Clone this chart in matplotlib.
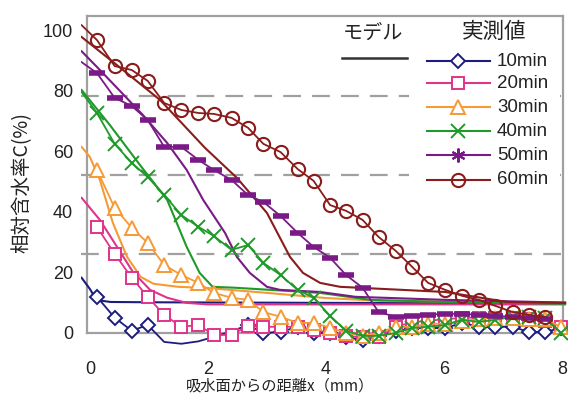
import numpy as np
import matplotlib.pyplot as plt
from matplotlib.lines import Line2D
from matplotlib.patches import Rectangle

plt.rcParams['font.family'] = ['Liberation Sans', 'Noto Sans CJK JP']

W, H = 568, 399

# measurement positions (mm)
x_meas = [0.12, 0.42, 0.71, 0.98, 1.26, 1.55, 1.84, 2.10, 2.40, 2.68, 2.94, 3.23, 3.52, 3.79,
          4.07, 4.34, 4.62, 4.89, 5.18, 5.46, 5.73, 6.02, 6.31, 6.59, 6.87, 7.16, 7.44, 7.71, 7.98]
x_surface = -0.14

meas_10 = [11.9, 5.0, 0.7, 2.6, -3.0, -3.6, -2.8, -1.3, 0.5, 2.6, 0.0, 0.3, 2.0, 0.0, 0.0,
           -1.5, -2.3, -1.0, 0.5, 1.6, 1.6, 1.6, 3.3, 2.0, 2.0, 2.0, 0.3, 0.3, 1.6]
meas_20 = [35.0, 26.1, 18.2, 11.9, 5.9, 2.0, 2.6, -0.7, -0.7, 2.3, 2.0, 2.0, 2.0, 1.0, 0.0,
           -1.0, -1.5, -1.5, 2.0, 3.5, 4.0, 4.5, 5.0, 5.0, 5.0, 5.0, 4.5, 4.0, 2.0]
meas_30 = [53.8, 41.3, 34.7, 29.7, 22.4, 19.1, 16.5, 13.2, 11.6, 10.9, 6.9, 5.3, 3.3, 3.3, 1.7,
           0.0, -1.0, 0.0, 2.0, 2.0, 3.0, 3.0, 4.0, 4.5, 5.0, 5.0, 4.5, 4.5, 2.0]
meas_40 = [72.6, 62.4, 56.1, 51.5, 45.5, 38.9, 35.0, 32.0, 27.4, 29.0, 23.1, 19.1, 14.2, 11.6, 5.6,
           0.7, -1.0, -1.0, 0.0, 1.6, 2.0, 2.6, 4.3, 3.6, 4.3, 5.3, 5.3, 5.0, 0.0]
meas_50 = [85.8, 77.6, 74.9, 70.3, 61.4, 61.4, 57.1, 53.8, 50.5, 45.5, 43.2, 38.6, 33.0, 28.4,
           24.8, 19.1, 14.9, 6.9, 5.3, 5.6, 6.0, 6.3, 6.3, 5.9, 5.6, 5.3, 5.0, 4.6]
meas_60 = [96.7, 88.1, 86.8, 83.2, 75.9, 73.6, 72.6, 72.3, 71.0, 67.7, 62.4, 59.7, 54.1, 50.2,
           42.2, 40.3, 37.3, 31.7, 27.1, 21.8, 16.5, 14.2, 12.2, 10.9, 8.9, 6.9, 5.9, 5.3]

# surface values (no marker) where the measured line starts left of the axis
surface = [None, None, None, 79.5, 89.4, 101.6]

# model curves (x, C)
model_10_x = [-0.14, 0.0, 0.08, 0.2, 0.35, 1.0, 4.0, 8.05]
model_10_y = [18.2, 14.5, 11.9, 10.6, 10.2, 10.1, 9.9, 9.8]
model_20_x = [-0.14, 0.17, 0.46, 0.73, 1.02, 1.31, 1.64, 2.0, 4.0, 8.05]
model_20_y = [44.6, 37.3, 28.4, 20.1, 14.2, 11.6, 9.9, 9.4, 9.4, 9.4]
model_30_x = [-0.14, 0.0, 0.17, 0.39, 0.63, 0.86, 1.08, 1.5, 2.0, 3.0, 4.0, 5.0, 8.05]
model_30_y = [61.4, 58.1, 50.5, 36.3, 25.1, 18.5, 16.2, 15.2, 14.8, 13.2, 11.5, 10.5, 10.0]
model_40_x = [-0.14, 0.34, 0.85, 1.31, 1.64, 1.86, 2.08, 2.46, 3.9, 4.75, 6.02, 8.05]
model_40_y = [80.2, 68.6, 55.4, 43.9, 28.4, 19.8, 15.2, 14.9, 13.2, 10.9, 10.2, 9.6]
model_50_x = [-0.14, 0.17, 0.46, 0.9, 1.31, 1.64, 1.92, 2.29, 2.49, 2.71, 3.0, 3.22, 3.9, 4.5, 6.02, 8.05]
model_50_y = [93.0, 86.8, 80.9, 71.9, 62.7, 53.8, 43.9, 33.0, 25.1, 19.8, 15.2, 14.2, 13.5, 11.9, 10.9, 10.0]
model_60_x = [-0.14, 0.46, 1.19, 1.95, 2.49, 3.0, 3.39, 3.61, 3.9, 4.24, 6.02, 7.07, 8.05]
model_60_y = [97.7, 88.4, 76.9, 61.1, 51.2, 39.6, 25.1, 19.8, 16.5, 15.2, 13.5, 10.2, 9.9]

labels = ['10min', '20min', '30min', '40min', '50min', '60min']
colors = ['#1c1c7e', '#e0338a', '#f59a35', '#1f9a2a', '#7a1a86', '#8a1c1c']

meas = [meas_10, meas_20, meas_30, meas_40, meas_50, meas_60]
models = [(model_10_x, model_10_y), (model_20_x, model_20_y), (model_30_x, model_30_y),
          (model_40_x, model_40_y), (model_50_x, model_50_y), (model_60_x, model_60_y)]

# marker styles: plot marker, legend marker
mk = [
    dict(marker='D', markersize=7.5, markerfacecolor='white', markeredgewidth=1.4),
    dict(marker='s', markersize=8, markerfacecolor='white', markeredgewidth=1.4),
    dict(marker='^', markersize=9.5, markerfacecolor='white', markeredgewidth=1.4),
    dict(marker='x', markersize=10, markeredgewidth=1.4),
    dict(marker='_', markersize=11, markeredgewidth=4),
    dict(marker='o', markersize=9.5, markerfacecolor='none', markeredgewidth=1.5),
]
leg_mk = list(mk)
leg_mk[4] = dict(marker=(6, 2, 0), markersize=10, markeredgewidth=1.5)

# 10min: no markers on the dip between 1.2 and 2.5 mm
skip = [(4, 5, 6, 7, 8), (), (), (), (), ()]

fig = plt.figure(figsize=(W / 100, H / 100), dpi=100)
ax = fig.add_axes([81 / W, (H - 348) / H, 487 / W, (348 - 16.4) / H])
ax.set_xlim(-0.15, 8.1)
ax.set_ylim(-5, 104.5)

grid_step = 104.5 / 4
for k in (1, 2, 3):
    ax.axhline(grid_step * k, color='#a0a0a0', lw=1.6, dashes=(8, 5), zorder=1)
ax.plot([-0.05, 8.02], [0, 0], color='#a0a0a0', lw=1.6, zorder=1)

for i in range(6):
    mx, my = models[i]
    ax.plot(mx, my, color=colors[i], lw=1.5, zorder=3)
for i in range(6):
    xs = x_meas[:len(meas[i])]
    ys = list(meas[i])
    idx = [j for j in range(len(ys)) if j not in skip[i]]
    if surface[i] is not None:
        xs = [x_surface] + xs
        ys = [surface[i]] + ys
        idx = [j + 1 for j in idx]
    ax.plot(xs, ys, color=colors[i], lw=1.3, markeredgecolor=colors[i],
            markevery=idx, zorder=4, **mk[i])

for s in ('top', 'bottom', 'right'):
    ax.spines[s].set_visible(False)
ax.spines['left'].set_position(('data', -0.05))
ax.spines['left'].set_bounds(0, 104.5)
ax.spines['left'].set_color('#a0a0a0')
ax.spines['left'].set_linewidth(1.6)
ax.plot([-0.05, 8.02], [104.5, 104.5], color='#a0a0a0', lw=1.6, clip_on=False, zorder=2)
ax.plot([8.02, 8.02], [0, 104.5], color='#a0a0a0', lw=1.6, clip_on=False, zorder=2)

ax.set_xticks([0, 2, 4, 6, 8])
ax.set_yticks([0, 20, 40, 60, 80, 100])
ax.tick_params(length=0, labelsize=13, colors='#222222')
ax.tick_params(axis='x', pad=9)
ax.tick_params(axis='y', pad=10)
ax.patch.set_alpha(0)

fig.text(280 / W, 1 - 386 / H, '吸水面からの距離x（mm）', ha='center', va='center',
         fontsize=11, family=['Noto Sans CJK JP'], color='#222222')
fig.text(22 / W, 1 - 183 / H, '相対含水率C(%)', ha='center', va='center', rotation=90,
         fontsize=14, family=['Noto Sans CJK JP'], color='#222222')

# legend
def fx(px):
    return px / W


def fy(py):
    return 1 - py / H


fig.patches.append(Rectangle((fx(409), fy(196)), fx(560) - fx(409), fy(20) - fy(196),
                             transform=fig.transFigure, facecolor='white', edgecolor='none',
                             zorder=5))
fig.text(fx(373), fy(33), 'モデル', ha='center', va='center', fontsize=14.5,
         family=['Noto Sans CJK JP'], color='#222222', zorder=6)
fig.lines.append(Line2D([fx(342), fx(407)], [fy(58), fy(58)], transform=fig.transFigure,
                        color='#333333', lw=1.8, zorder=6))
fig.text(fx(494), fy(32), '実測値', ha='center', va='center', fontsize=15.5,
         family=['Noto Sans CJK JP'], color='#222222', zorder=6)
leg_y = [61, 83, 107, 131, 155, 180]
for i in range(6):
    fig.lines.append(Line2D([fx(427), fx(490)], [fy(leg_y[i])] * 2, transform=fig.transFigure,
                            color=colors[i], lw=1.5, zorder=6))
    fig.lines.append(Line2D([fx(458)], [fy(leg_y[i])], transform=fig.transFigure,
                            color=colors[i], markeredgecolor=colors[i], zorder=7, **leg_mk[i]))
    fig.text(fx(497), fy(leg_y[i]), labels[i], ha='left', va='center', fontsize=13.5,
             color='#222222', zorder=7)

fig.savefig('out.png', dpi=100)
